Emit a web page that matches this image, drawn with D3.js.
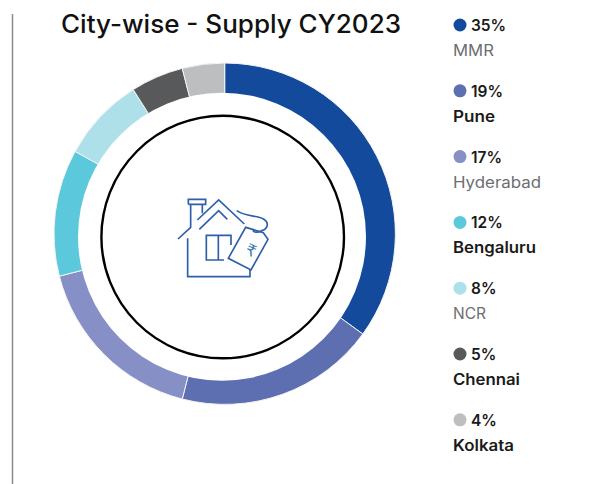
<!DOCTYPE html>
<html><head><meta charset="utf-8">
<script src="https://cdn.jsdelivr.net/npm/d3@7"></script>
<style>html,body{margin:0;padding:0;background:#fff}svg{display:block}text{font-family:Inter,Lato,sans-serif}</style>
</head><body><svg id="c" width="592" height="484"></svg>
<script>
const categories=["MMR","Pune","Hyderabad","Bengaluru","NCR","Chennai","Kolkata"];
const values=[35,19,17,12,8,5,4];
const colors=["#134a9c","#5d6fb0","#8690c6","#5bc8dc","#aee0ea","#58595b","#bcbec0"];
const boldNames=["Pune","Bengaluru","Chennai","Kolkata"];
const title="City-wise - Supply CY2023";

const svg=d3.select("#c");
svg.append("line").attr("x1",12.5).attr("x2",12.5).attr("y1",14).attr("y2",484).attr("stroke","#8a8a8a").attr("stroke-width",1.5);
svg.append("text").attr("x",61).attr("y",33).attr("font-size",25).attr("font-weight",500).attr("fill","#111")
  .attr("textLength",340).attr("lengthAdjust","spacingAndGlyphs").text(title);

const g=svg.append("g").attr("transform","translate(224.7,233.7)");
const pie=d3.pie().sort(null).value(d=>d)(values);
const arc=d3.arc().innerRadius(100).outerRadius(170.7);
g.selectAll("path").data(pie).join("path").attr("d",arc)
  .attr("fill",(d,i)=>colors[i]).attr("stroke","#f4f4f4").attr("stroke-width",1);
// the hole and the black ring sit slightly off the ring's centre in the reference
svg.append("circle").attr("cx",222).attr("cy",236.7).attr("r",144).attr("fill","#fff");
svg.append("circle").attr("cx",222.7).attr("cy",237).attr("r",121.3).attr("fill","none").attr("stroke","#000").attr("stroke-width",2.4);

const icon=svg.append("g").attr("transform","translate(150,170) scale(0.3333)")
  .attr("fill","none").attr("stroke","#2f5fab").attr("stroke-width",5);
["M84 207L122 172V103","M115 103V88H167V103H115","M157 103V130",
 "M142 150L206 90L283 162","M148 178L206 122L232 148",
 "M113 205V320H300V298",
 "M243 225V196H169V270H222","M205 196V270",
 "M235 265L287 172L340 188L354 208L303 300Z",
 "M260 122C290 142 320 135 340 147C360 158 352 178 335 182C320 190 304 186 312 178"]
 .forEach(d=>icon.append("path").attr("d",d));
icon.append("text").attr("transform","translate(296,256) rotate(25)").attr("text-anchor","middle")
  .attr("font-size",48).attr("fill","#3f7fb0").attr("stroke","none").style("font-family","DejaVu Sans").text("₹");

const step=65.8;
const nameWidths=[41,42,88,83,33,67,61];
const leg=svg.selectAll("g.l").data(categories).join("g").attr("class","l")
  .attr("transform",(d,i)=>`translate(453,${25+i*step})`);
leg.append("circle").attr("cx",7).attr("cy",0).attr("r",6.5).attr("fill",(d,i)=>colors[i]);
leg.append("text").attr("x",18).attr("y",6).attr("font-size",15.5).attr("font-weight",600).attr("fill","#1a1a1a").text((d,i)=>values[i]+"%");
leg.append("text").attr("x",0).attr("y",31).attr("font-size",15.5)
  .attr("font-weight",d=>boldNames.includes(d)?600:400)
  .attr("fill",d=>boldNames.includes(d)?"#1a1a1a":"#6d6e71")
  .attr("textLength",(d,i)=>nameWidths[i]).attr("lengthAdjust","spacingAndGlyphs").text(d=>d);
</script></body></html>
